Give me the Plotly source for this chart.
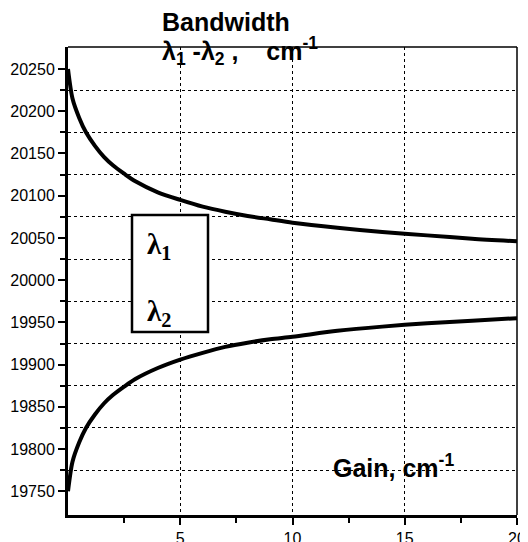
import plotly.graph_objects as go

gain = [0, 0.2, 0.5, 0.8, 1.2, 1.6, 2.0, 2.5, 3, 4, 5, 6, 7, 8, 9, 10, 12, 14, 16, 18, 20]
lambda1 = [20250, 20215, 20192, 20175, 20159, 20146, 20136, 20126, 20117, 20104, 20095, 20087, 20081, 20076, 20072, 20068, 20062, 20057, 20053, 20049, 20046]
lambda2 = [19750, 19785, 19808, 19825, 19841, 19854, 19864, 19874, 19883, 19896, 19906, 19914, 19921, 19926, 19930, 19933, 19940, 19945, 19949, 19952, 19955]

x_ticks = [5, 10, 15, 20]
y_ticks = list(range(19750, 20251, 50))

fig = go.Figure()
for ys in (lambda1, lambda2):
    fig.add_trace(go.Scatter(x=gain, y=ys, mode="lines", line=dict(color="black", width=4, shape="spline", smoothing=0.8),
                             showlegend=False))

axis_font = dict(family="Arial, Liberation Sans", size=16, color="black")
fig.update_xaxes(range=[0, 20], tickvals=x_ticks, ticktext=[str(t) for t in x_ticks],
                 ticks="outside", ticklen=7, tickwidth=2, tickcolor="black",
                 showline=True, linewidth=3, linecolor="black", automargin=False,
                 showgrid=True, gridcolor="black", gridwidth=1, griddash="dot",
                 minor=dict(tickvals=[2.5, 7.5, 12.5, 17.5], ticks="outside", ticklen=5, tickwidth=2, tickcolor="black", showgrid=False),
                 tickfont=axis_font, zeroline=False)
fig.update_yaxes(range=[19722, 20276], tickvals=y_ticks, ticktext=[str(t) for t in y_ticks],
                 ticks="outside", ticklen=7, tickwidth=2, tickcolor="black",
                 showline=True, linewidth=3, linecolor="black", automargin=False,
                 showgrid=False,
                 minor=dict(tickvals=list(range(19775, 20250, 50)), ticks="outside", ticklen=5, tickwidth=2, tickcolor="black",
                            showgrid=True, gridcolor="black", gridwidth=1, griddash="dot"),
                 tickfont=axis_font, zeroline=False)

# top and right border
fig.add_shape(type="line", xref="paper", yref="paper", x0=0, x1=1, y0=1, y1=1, line=dict(color="black", width=1.5))
fig.add_shape(type="line", xref="paper", yref="paper", x0=1, x1=1, y0=0, y1=1, line=dict(color="black", width=1.5))

# page offset (body margin) of 8px is compensated in margins
OFF = 8
L, T = 68 - OFF, 47 - OFF
W, H = 449, 468
def px(xp): return (xp - 68) / W
def py(yp): return 1 - (yp - 47) / H
fig.add_shape(type="rect", xref="paper", yref="paper", x0=px(132), x1=px(208), y0=py(332), y1=py(215),
              line=dict(color="black", width=2.5), fillcolor="white", layer="above")
serif = dict(family="Liberation Serif, Times New Roman", size=29, color="black")
fig.add_annotation(xref="paper", yref="paper", x=px(145), y=py(246), text="<b>λ<sub>1</sub></b>", showarrow=False,
                   xanchor="left", yanchor="middle", font=serif)
fig.add_annotation(xref="paper", yref="paper", x=px(145), y=py(313), text="<b>λ<sub>2</sub></b>", showarrow=False,
                   xanchor="left", yanchor="middle", font=serif)

bold = dict(family="Arial, Liberation Sans", size=25, color="black")
fig.add_annotation(xref="paper", yref="paper", x=px(160), y=py(22), text="<b>Bandwidth</b>", showarrow=False,
                   xanchor="left", yanchor="middle", font=bold)
fig.add_annotation(xref="paper", yref="paper", x=px(160), y=py(51), text="<b>λ<sub>1</sub> -λ<sub>2</sub> ,    cm<sup>-1</sup></b>",
                   showarrow=False, xanchor="left", yanchor="middle", font=bold)
fig.add_annotation(xref="paper", yref="paper", x=px(331), y=py(466), text="<b>Gain, cm<sup>-1</sup></b>", showarrow=False,
                   xanchor="left", yanchor="middle", font=bold)

fig.update_layout(width=528 - OFF, height=542 - OFF, margin=dict(l=L, r=11, t=T, b=27, autoexpand=False),
                  plot_bgcolor="white", paper_bgcolor="white")
fig.write_html("out.html")
